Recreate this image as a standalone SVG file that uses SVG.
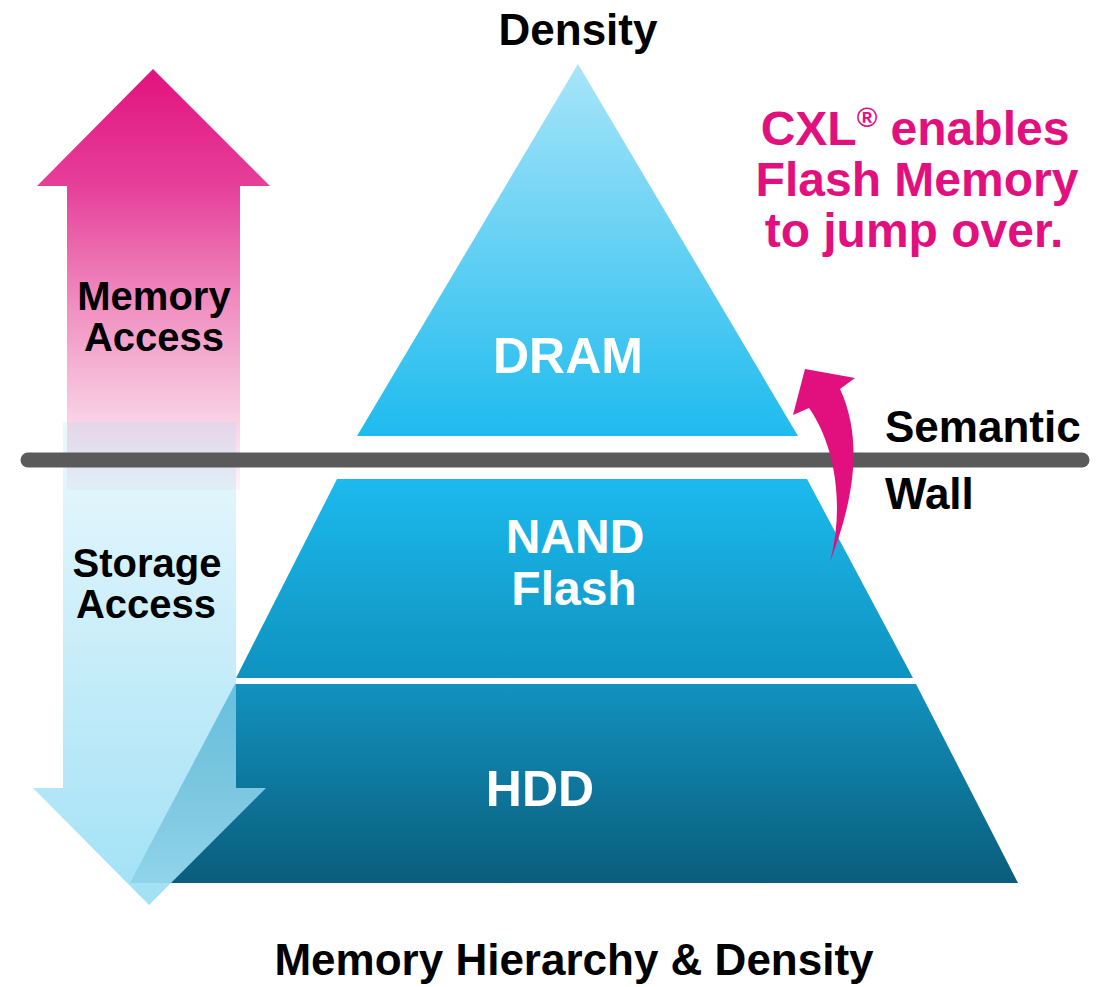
<svg xmlns="http://www.w3.org/2000/svg" width="1112" height="987" viewBox="0 0 1112 987">
  <defs>
    <linearGradient id="gPink" gradientUnits="userSpaceOnUse" x1="0" y1="69" x2="0" y2="492">
      <stop offset="0" stop-color="#e2127e"/>
      <stop offset="0.28" stop-color="#e6409a"/>
      <stop offset="0.55" stop-color="#f08cbf"/>
      <stop offset="0.82" stop-color="#f8cfe3"/>
      <stop offset="1" stop-color="#fef6fa"/>
    </linearGradient>
    <linearGradient id="gStorage" gradientUnits="userSpaceOnUse" x1="0" y1="422" x2="0" y2="905">
      <stop offset="0" stop-color="#9cdff5" stop-opacity="0.2"/>
      <stop offset="1" stop-color="#9cdff5" stop-opacity="0.95"/>
    </linearGradient>
    <linearGradient id="gDram" gradientUnits="userSpaceOnUse" x1="0" y1="64" x2="0" y2="436">
      <stop offset="0" stop-color="#a8e5f9"/>
      <stop offset="1" stop-color="#1ebbee"/>
    </linearGradient>
    <linearGradient id="gNand" gradientUnits="userSpaceOnUse" x1="0" y1="479" x2="0" y2="678">
      <stop offset="0" stop-color="#1cbaee"/>
      <stop offset="1" stop-color="#0f92bf"/>
    </linearGradient>
    <linearGradient id="gHdd" gradientUnits="userSpaceOnUse" x1="0" y1="684" x2="0" y2="883">
      <stop offset="0" stop-color="#1192bf"/>
      <stop offset="1" stop-color="#0a5d7b"/>
    </linearGradient>
  </defs>
  <style>
    text { font-family: "Liberation Sans", Arial, Helvetica, sans-serif; font-weight: bold; }
    .dark { fill: #000000; }
    .white { fill: #ffffff; }
    .magenta { fill: #e2107e; }
    .mid { text-anchor: middle; }
  </style>

  <g id="memory-access-arrow">
    <path d="M153,69 L270,186 L240,186 L240,490 L67,490 L67,186 L37,186 Z" fill="url(#gPink)"/>
    <text class="dark mid" x="154" y="310" font-size="40">Memory</text>
    <text class="dark mid" x="154" y="351" font-size="40">Access</text>
  </g>

  <g id="node-dram">
    <path d="M578,64 L798,436 L357,436 Z" fill="url(#gDram)"/>
    <text class="white mid" x="568" y="373" font-size="50">DRAM</text>
  </g>

  <g id="node-nand">
    <path d="M337,479 L807,479 L913,678 L236,678 Z" fill="url(#gNand)"/>
    <text class="white mid" x="575" y="553" font-size="48">NAND</text>
    <text class="white mid" x="574" y="605" font-size="48">Flash</text>
  </g>

  <g id="node-hdd">
    <path d="M235,684 L916,684 L1018,883 L130,883 Z" fill="url(#gHdd)"/>
    <text class="white mid" x="540" y="806" font-size="50">HDD</text>
  </g>

  <g id="storage-access-arrow">
    <path d="M63,422 L236,422 L236,788 L266,788 L149,905 L33,788 L63,788 Z" fill="url(#gStorage)"/>
    <text class="dark mid" x="147" y="577" font-size="40">Storage</text>
    <text class="dark mid" x="146" y="618" font-size="40">Access</text>
  </g>

  <g id="semantic-wall">
    <line x1="28" y1="460" x2="1082" y2="460" stroke="#5a5a5a" stroke-width="15" stroke-linecap="round"/>
    <text class="dark" x="885" y="442" font-size="44">Semantic</text>
    <text class="dark" x="885" y="509" font-size="44">Wall</text>
  </g>

  <g id="connectors">
    <path d="M830,562 C850,510 866,445 840,389 L855,378 L805,369 L793,415 L809,408 C835,445 845,505 830,562 Z" fill="#e2107e"/>
  </g>

  <g id="cxl-note">
    <text class="magenta mid" x="915" y="145" font-size="48">CXL<tspan font-size="28" dy="-18">®</tspan><tspan dy="18"> enables</tspan></text>
    <text class="magenta mid" x="917" y="196" font-size="48">Flash Memory</text>
    <text class="magenta mid" x="914" y="247" font-size="48">to jump over.</text>
  </g>

  <g id="titles">
    <text class="dark mid" x="578" y="45" font-size="44">Density</text>
    <text class="dark mid" x="574" y="975" font-size="44">Memory Hierarchy &amp; Density</text>
  </g>
</svg>
